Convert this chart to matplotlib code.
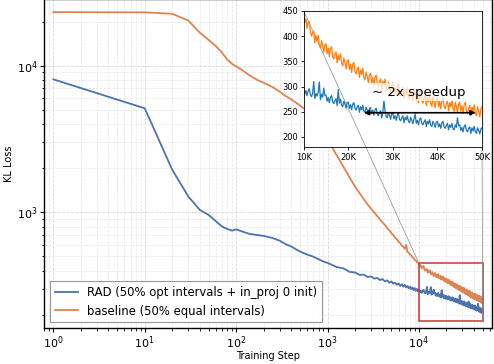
import numpy as np
import matplotlib
matplotlib.use("Agg")
import matplotlib.pyplot as plt
from matplotlib.ticker import FuncFormatter
from mpl_toolkits.axes_grid1.inset_locator import mark_inset

# ---------------- data ----------------
steps_a = [1, 10, 20, 30, 40, 50, 60, 70, 80, 90, 100, 120, 140, 170, 200,
           250, 300, 350, 400, 450, 500, 600, 700, 800, 900]
steps_b = list(range(1000, 10000, 250))
steps_c = list(range(10000, 50001, 250))
steps = steps_a + steps_b + steps_c

rad_a = [8070, 5120, 1950, 1280, 1040, 960, 870, 800, 770, 750, 765, 735, 712,
         700, 690, 668, 640, 605, 585, 560, 540, 515, 498, 478, 462]
rad_b = [452, 424, 414, 392, 389, 374, 376, 362, 365, 353, 357, 345, 350, 338,
         343, 331, 338, 326, 331, 320, 327, 315, 323, 311, 320, 307, 315, 303,
         311, 299, 307, 295, 304, 291, 300, 289]
rad_c = [297, 285, 292, 282, 292, 296, 284, 280, 286, 310,
         276, 286, 281, 289, 309, 274, 285, 279, 297, 282,
         283, 271, 278, 268, 278, 282, 270, 266, 272, 276,
         262, 294, 267, 275, 263, 260, 271, 265, 257, 268,
         269, 257, 264, 254, 265, 268, 257, 253, 260, 263,
         249, 260, 254, 263, 251, 249, 259, 254, 246, 257,
         258, 246, 253, 243, 254, 257, 246, 242, 249, 252,
         238, 249, 272, 252, 240, 238, 248, 243, 235, 246,
         247, 236, 242, 233, 243, 247, 235, 232, 238, 242,
         228, 239, 234, 242, 231, 228, 239, 233, 226, 236,
         246, 227, 233, 224, 235, 238, 227, 224, 230, 234,
         221, 231, 226, 234, 223, 221, 231, 226, 219, 229,
         231, 220, 226, 217, 228, 231, 220, 217, 223, 227,
         214, 224, 219, 227, 216, 214, 224, 219, 238, 222,
         224, 213, 219, 210, 221, 224, 213, 210, 217, 220,
         207, 218, 212, 221, 210, 207, 218, 213, 206, 216,
         218]
rad = rad_a + rad_b + rad_c

base_a = [23200, 23100, 22600, 20300, 16800, 15000, 13600, 12300, 11000,
          10300, 9900, 9200, 8600, 8000, 7650, 7150, 6650, 6200, 5900, 5600,
          5350, 4900, 4400, 3950, 3550]
base_b = [3150, 2470, 2033, 1722, 1496, 1346, 1226, 1129, 1058, 996, 942, 894,
          853, 818, 778, 754, 719, 699, 670, 655, 628, 616, 592, 584, 563, 600,
          536, 531, 513, 509, 492, 489, 473, 471, 456, 455]
base_c = [450, 427, 435, 415, 428, 429, 408, 400, 407, 410,
          387, 401, 390, 402, 382, 376, 391, 381, 368, 383,
          385, 365, 376, 359, 376, 379, 360, 355, 364, 369,
          347, 362, 353, 365, 347, 341, 357, 348, 335, 351,
          353, 334, 344, 328, 345, 348, 330, 325, 334, 339,
          318, 333, 324, 336, 318, 313, 329, 320, 308, 323,
          326, 307, 318, 302, 319, 323, 305, 300, 310, 315,
          294, 311, 302, 315, 297, 292, 309, 300, 288, 304,
          307, 288, 299, 284, 301, 305, 287, 282, 293, 298,
          277, 293, 284, 298, 280, 275, 292, 283, 272, 288,
          291, 272, 284, 268, 285, 290, 272, 267, 278, 283,
          262, 279, 270, 284, 266, 261, 279, 270, 258, 275,
          278, 260, 271, 256, 273, 278, 260, 256, 266, 272,
          252, 268, 260, 273, 256, 251, 269, 260, 249, 265,
          269, 251, 262, 247, 264, 269, 251, 247, 257, 263,
          243, 259, 251, 264, 247, 242, 260, 251, 240, 256,
          260]
base = base_a + base_b + base_c

labels = ["RAD (50% opt intervals + in_proj 0 init)",
          "baseline (50% equal intervals)"]
inset_xticks = [10000, 20000, 30000, 40000, 50000]
inset_yticks = [200, 250, 300, 350, 400, 450]

# ---------------- figure ----------------
W, H = 494, 364
fig = plt.figure(figsize=(W / 100, H / 100), dpi=100)
ax = fig.add_axes([44 / W, 1 - 328 / H, (492 - 44) / W, (328 + 1) / H])

c_blue, c_orange = "#4c72b0", "#dd8452"
ax.plot(steps, rad, color=c_blue, lw=1.3, label=labels[0])
ax.plot(steps, base, color=c_orange, lw=1.3, label=labels[1])
ax.set_xscale("log")
ax.set_yscale("log")
ax.set_xlim(0.79, 63100)
ax.set_ylim(162.5, 28500)
ax.grid(True, which="major", color="#d8d8d8", ls="--", lw=0.6)
ax.grid(True, which="minor", color="#e6e6e6", ls="--", lw=0.5)
ax.tick_params(which="major", labelsize=8, length=3, width=0.8, pad=1.5)
ax.tick_params(which="minor", length=1.8, width=0.6)
ax.set_xlabel("Training Step", fontsize=7, labelpad=0)
ax.set_ylabel("KL Loss", fontsize=7, labelpad=2)
for s in ax.spines.values():
    s.set_linewidth(1.0)
leg = ax.legend(loc="lower left", fontsize=8.4, fancybox=False,
                edgecolor="0.55", framealpha=0.9, borderaxespad=0.5)
leg.get_frame().set_linewidth(0.8)

# ---------------- inset ----------------
axins = fig.add_axes([303.7 / W, 1 - 147 / H, (482 - 303.7) / W, (147 - 11) / H])
axins.plot(steps, rad, color="#1f77b4", lw=0.9)
axins.plot(steps, base, color="#ff7f0e", lw=0.9)
axins.set_xlim(10000, 50000)
axins.set_ylim(180, 450)
axins.set_xticks(inset_xticks)
axins.set_yticks(inset_yticks)
axins.xaxis.set_major_formatter(FuncFormatter(lambda v, p: f"{int(v / 1000)}K"))
axins.tick_params(labelsize=6, length=2.5, width=0.6, pad=1.5)
for s in axins.spines.values():
    s.set_linewidth(0.6)

axins.annotate("", xy=(23500, 248), xytext=(48600, 248),
               arrowprops=dict(arrowstyle="<|-|>", color="black", lw=1.2,
                               mutation_scale=7, shrinkA=0, shrinkB=0))
axins.text(25400, 289, "~ 2x speedup", fontsize=9.6, va="center", ha="left",
           bbox=dict(facecolor="white", alpha=0.7, edgecolor="none", pad=1.5))

pp, p1, p2 = mark_inset(ax, axins, loc1=2, loc2=4, fc="none", ec="0.55", lw=0.5)
pp.set_edgecolor("#cc3333")
pp.set_linewidth(1.1)
pp.set_zorder(5)

fig.savefig("out.png", dpi=100)
